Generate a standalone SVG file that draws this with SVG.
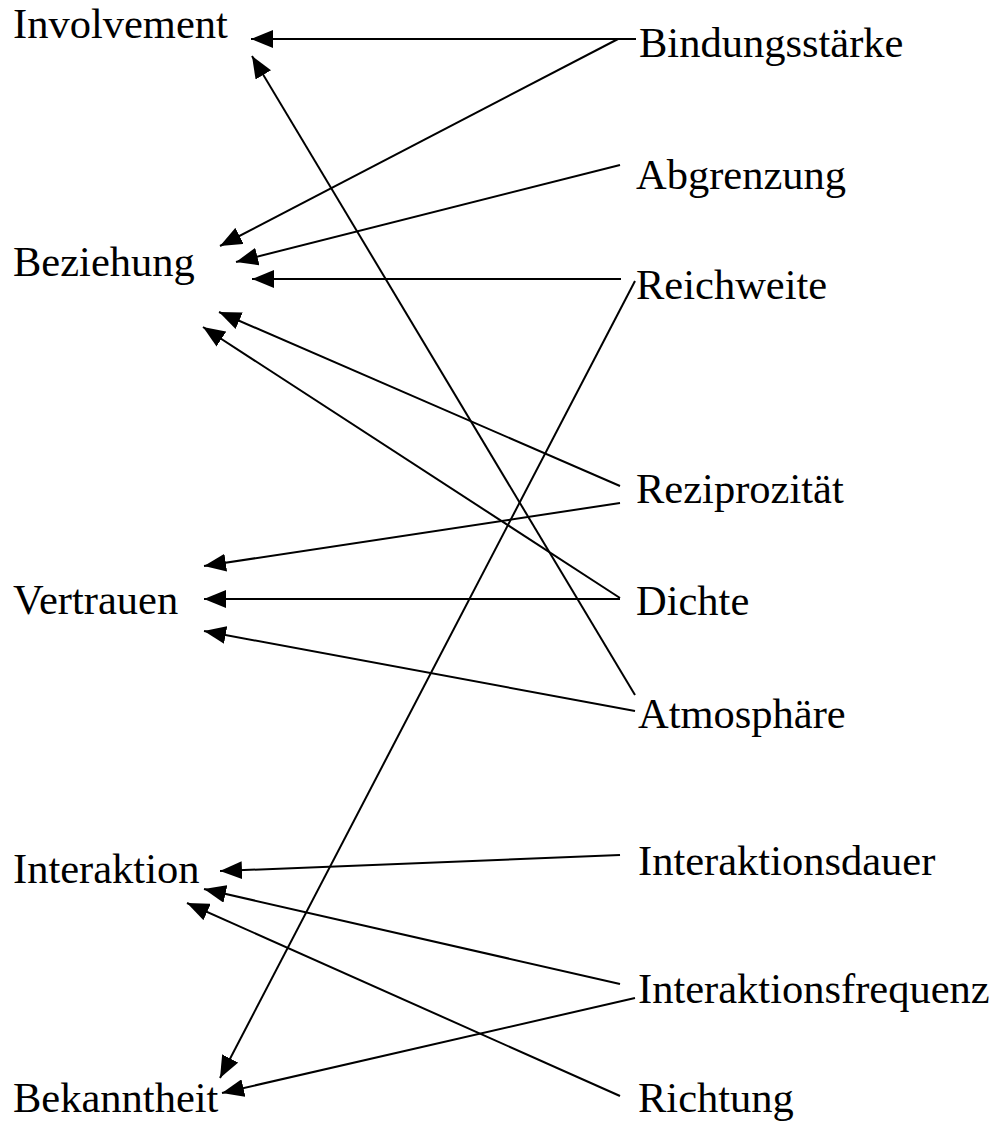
<svg xmlns="http://www.w3.org/2000/svg" width="998" height="1122" viewBox="0 0 998 1122">
  <style>
    .lbl { font-family: "Liberation Serif", "Times New Roman", serif; font-size: 42.5px; fill: #000; }
    .edge { stroke: #000; stroke-width: 2; fill: none; marker-end: url(#arrow); }
  </style>
  <defs>
    <marker id="arrow" viewBox="0 0 22 18" refX="22" refY="9" markerWidth="22" markerHeight="18" markerUnits="userSpaceOnUse" orient="auto">
      <path d="M0,0 L22,9 L0,18 Z" fill="#000"/>
    </marker>
  </defs>
  <rect width="998" height="1122" fill="#fff"/>

  <!-- target constructs (left column) -->
  <g id="involvement"><text class="lbl" x="13" y="38">Involvement</text></g>
  <g id="beziehung"><text class="lbl" x="13" y="276">Beziehung</text></g>
  <g id="vertrauen"><text class="lbl" x="13" y="614">Vertrauen</text></g>
  <g id="interaktion"><text class="lbl" x="13" y="883">Interaktion</text></g>
  <g id="bekanntheit"><text class="lbl" x="13" y="1112">Bekanntheit</text></g>

  <!-- network characteristics (right column) -->
  <g id="bindungsstaerke"><text class="lbl" x="639" y="57">Bindungsstärke</text></g>
  <g id="abgrenzung"><text class="lbl" x="636" y="189">Abgrenzung</text></g>
  <g id="reichweite"><text class="lbl" x="636" y="299">Reichweite</text></g>
  <g id="reziprozitaet"><text class="lbl" x="636" y="503">Reziprozität</text></g>
  <g id="dichte"><text class="lbl" x="636" y="615">Dichte</text></g>
  <g id="atmosphaere"><text class="lbl" x="638" y="728">Atmosphäre</text></g>
  <g id="interaktionsdauer"><text class="lbl" x="638" y="875">Interaktionsdauer</text></g>
  <g id="interaktionsfrequenz"><text class="lbl" x="638" y="1003">Interaktionsfrequenz</text></g>
  <g id="richtung"><text class="lbl" x="638" y="1112">Richtung</text></g>

  <!-- connectors -->
  <g id="connectors">
    <line class="edge" x1="636" y1="39" x2="251" y2="39"/>
    <line class="edge" x1="618" y1="39" x2="220" y2="246"/>
    <line class="edge" x1="620" y1="165" x2="236" y2="262"/>
    <line class="edge" x1="621" y1="279" x2="252" y2="279"/>
    <line class="edge" x1="635" y1="281" x2="220" y2="1078"/>
    <line class="edge" x1="620" y1="486" x2="219" y2="312"/>
    <line class="edge" x1="620" y1="598" x2="203" y2="327"/>
    <line class="edge" x1="635" y1="695" x2="252" y2="56"/>
    <line class="edge" x1="620" y1="503" x2="204" y2="566"/>
    <line class="edge" x1="620" y1="599" x2="204" y2="599"/>
    <line class="edge" x1="635" y1="711" x2="204" y2="631"/>
    <line class="edge" x1="620" y1="855" x2="220" y2="871"/>
    <line class="edge" x1="620" y1="984" x2="204" y2="889"/>
    <line class="edge" x1="620" y1="1096" x2="187" y2="903"/>
    <line class="edge" x1="635" y1="998" x2="222" y2="1093"/>
  </g>
</svg>
